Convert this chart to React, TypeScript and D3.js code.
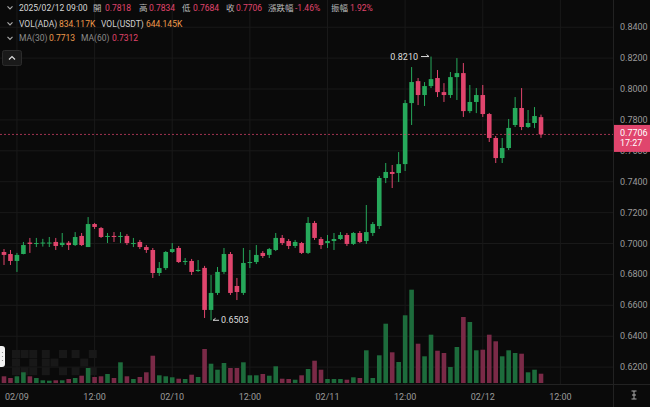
import React from "react";
import * as d3 from "d3";

// ---- data (hourly candles, ADA/USDT) ----
const startTime = new Date(2025, 1, 8, 22, 0, 0).getTime();
const opens = [
  0.6945, 0.6932, 0.6887, 0.6932, 0.7006, 0.6997, 0.7000, 0.7000, 0.7010, 0.6990,
  0.7005, 0.6990, 0.7049, 0.6977, 0.7126, 0.7100, 0.7042, 0.7049, 0.7042, 0.7049,
  0.6997, 0.7010, 0.6977, 0.6958, 0.6809, 0.6841, 0.6945, 0.6971, 0.6880, 0.6887,
  0.6822, 0.6842, 0.6570, 0.6680, 0.6816, 0.6932, 0.6725, 0.6680, 0.6874, 0.6880,
  0.6939, 0.6926, 0.6958, 0.7036, 0.7016, 0.6984, 0.7003, 0.6939, 0.7133, 0.7029,
  0.7003, 0.7016, 0.7029, 0.7055, 0.6997, 0.7068, 0.7016, 0.7068, 0.7113, 0.7424,
  0.7463, 0.7456, 0.7514, 0.7909, 0.8051, 0.7961, 0.8019, 0.8071, 0.7980, 0.7961,
  0.8077, 0.8103, 0.7857, 0.7916, 0.7961, 0.7838, 0.7683, 0.7553, 0.7618, 0.7767,
  0.7877, 0.7754, 0.7780, 0.7818,
];
const highs = [
  0.6964, 0.6958, 0.6939, 0.7010, 0.7036, 0.7036, 0.7030, 0.7042, 0.7036, 0.7068,
  0.7016, 0.7074, 0.7068, 0.7171, 0.7133, 0.7107, 0.7068, 0.7074, 0.7074, 0.7061,
  0.7036, 0.7023, 0.6990, 0.6971, 0.6880, 0.6951, 0.7003, 0.6984, 0.6906, 0.6900,
  0.6893, 0.6855, 0.6796, 0.6848, 0.6971, 0.6945, 0.6777, 0.6971, 0.6958, 0.6990,
  0.6951, 0.6971, 0.7068, 0.7055, 0.7029, 0.7023, 0.7010, 0.7171, 0.7146, 0.7042,
  0.7055, 0.7068, 0.7074, 0.7068, 0.7074, 0.7081, 0.7249, 0.7139, 0.7437, 0.7521,
  0.7508, 0.7592, 0.7929, 0.8142, 0.8071, 0.8045, 0.8210, 0.8123, 0.8038, 0.8110,
  0.8200, 0.8168, 0.8026, 0.8006, 0.8026, 0.7845, 0.7696, 0.7683, 0.7806, 0.7948,
  0.8006, 0.7864, 0.7883, 0.7834,
];
const lows = [
  0.6861, 0.6861, 0.6816, 0.6930, 0.6939, 0.6977, 0.6980, 0.6977, 0.6958, 0.6977,
  0.6958, 0.6984, 0.6984, 0.6977, 0.7094, 0.7036, 0.7003, 0.7010, 0.7003, 0.6990,
  0.6977, 0.6964, 0.6939, 0.6777, 0.6790, 0.6829, 0.6939, 0.6874, 0.6861, 0.6796,
  0.6816, 0.6518, 0.6503, 0.6667, 0.6803, 0.6667, 0.6634, 0.6667, 0.6841, 0.6867,
  0.6906, 0.6906, 0.6951, 0.6990, 0.6964, 0.6971, 0.6932, 0.6932, 0.7023, 0.6964,
  0.6971, 0.6958, 0.7023, 0.6984, 0.6990, 0.7003, 0.6997, 0.7049, 0.7094, 0.7391,
  0.7359, 0.7398, 0.7469, 0.7767, 0.7896, 0.7890, 0.8006, 0.7948, 0.7916, 0.7942,
  0.7929, 0.7819, 0.7844, 0.7844, 0.7819, 0.7657, 0.7521, 0.7521, 0.7605, 0.7754,
  0.7734, 0.7747, 0.7747, 0.7684,
];
const closes = [
  0.6926, 0.6887, 0.6926, 0.6990, 0.6997, 0.7003, 0.7006, 0.7006, 0.6984, 0.7005,
  0.6990, 0.7042, 0.6990, 0.7126, 0.7107, 0.7042, 0.7049, 0.7042, 0.7049, 0.7003,
  0.7003, 0.6977, 0.6958, 0.6809, 0.6841, 0.6945, 0.6964, 0.6880, 0.6887, 0.6816,
  0.6829, 0.6570, 0.6680, 0.6816, 0.6932, 0.6680, 0.6686, 0.6874, 0.6880, 0.6926,
  0.6919, 0.6964, 0.7036, 0.7003, 0.6984, 0.7010, 0.6939, 0.7133, 0.7036, 0.6990,
  0.7016, 0.7029, 0.7055, 0.6997, 0.7068, 0.7010, 0.7074, 0.7126, 0.7424, 0.7463,
  0.7450, 0.7514, 0.7909, 0.8045, 0.7961, 0.8019, 0.8064, 0.7980, 0.7961, 0.8077,
  0.8103, 0.7857, 0.7916, 0.7961, 0.7838, 0.7683, 0.7553, 0.7618, 0.7748, 0.7877,
  0.7754, 0.7780, 0.7825, 0.7706,
];
// volume in thousand ADA
const volumes = [
  601, 449, 601, 960, 601, 449, 242, 206, 242, 242,
  359, 449, 655, 1346, 538, 601, 807, 449, 1857, 601,
  359, 538, 960, 2449, 691, 601, 511, 386, 359, 745,
  538, 3050, 1731, 1193, 1794, 1346, 1346, 1857, 691, 691,
  807, 655, 1498, 386, 359, 296, 691, 1256, 2000, 1193,
  359, 359, 359, 296, 511, 449, 2933, 449, 2485, 5319,
  2754, 1884, 6073, 8369, 3525, 2395, 4333, 2897, 2691, 1435,
  3229, 5920, 5472, 2933, 2987, 4333, 3740, 2395, 2933, 2691,
  2628, 960, 1193, 834.117,
];
const priceTicks = [0.62, 0.64, 0.66, 0.68, 0.7, 0.72, 0.74, 0.76, 0.78, 0.8, 0.82, 0.84];
const timeTickDates = [
  new Date(2025, 1, 9, 0), new Date(2025, 1, 9, 12),
  new Date(2025, 1, 10, 0), new Date(2025, 1, 10, 12),
  new Date(2025, 1, 11, 0), new Date(2025, 1, 11, 12),
  new Date(2025, 1, 12, 0), new Date(2025, 1, 12, 12),
];
const timeTickLabels = ["02/09", "12:00", "02/10", "12:00", "02/11", "12:00", "02/12", "12:00"];

const lastPrice = 0.7706;
const highMark = 0.821;
const lowMark = 0.6503;

const W = 650;
const H = 407;
const PLOT_R = 613;
const GREEN = "#26a95b";
const RED = "#e0456d";
const VGREEN = "#1d6c3c";
const VRED = "#7a2a47";
const FONT = "Roboto, 'Noto Sans CJK TC', 'Noto Sans', sans-serif";

const candles = opens.map((o, i) => ({
  t: new Date(startTime + i * 3600 * 1000),
  o,
  h: highs[i],
  l: lows[i],
  c: closes[i],
  v: volumes[i],
}));

const x = d3
  .scaleTime()
  .domain([candles[0].t, candles[candles.length - 1].t])
  .range([4, 4 + (candles.length - 1) * 6.47]);
const y = d3.scaleLinear().domain([0.62, 0.84]).range([367.1, 27.2]);
const yv = d3.scaleLinear().domain([0, 10000]).range([383, 271.5]);
const bodyW = 4.6;

const Chevron = ({ cx, cy, up = false }: { cx: number; cy: number; up?: boolean }) => {
  const d = up
    ? `M${cx - 3},${cy + 1.5} L${cx},${cy - 1.5} L${cx + 3},${cy + 1.5}`
    : `M${cx - 2.5},${cy - 1.2} L${cx},${cy + 1.3} L${cx + 2.5},${cy - 1.2}`;
  return <path d={d} fill="none" stroke={up ? "#ddd" : "#aaa"} strokeWidth={1.2} />;
};

// OKX-like block watermark cells [col,row]
const logoO = [[0,0],[1,0],[2,0],[0,1],[2,1],[0,2],[1,2],[2,2]];
const logoK = [[0,0],[0,1],[0,2],[1,1],[2,0],[2,2]];
const logoX = [[0,0],[2,0],[1,1],[0,2],[2,2]];

export default function App() {
  const hdr1: { t: string; x: number; c: string }[] = [
    { t: "2025/02/12 09:00", x: 19, c: "#d8d8d8" },
    { t: "開", x: 93, c: "#bbbbbb" },
    { t: "0.7818", x: 105, c: RED },
    { t: "高", x: 139, c: "#bbbbbb" },
    { t: "0.7834", x: 149, c: RED },
    { t: "低", x: 182, c: "#bbbbbb" },
    { t: "0.7684", x: 193, c: RED },
    { t: "收", x: 226, c: "#bbbbbb" },
    { t: "0.7706", x: 236, c: RED },
    { t: "漲跌幅", x: 268, c: "#bbbbbb" },
    { t: "-1.46%", x: 295, c: RED },
    { t: "振幅", x: 331, c: "#bbbbbb" },
    { t: "1.92%", x: 350, c: RED },
  ];
  const hdr2 = [
    { t: "VOL(ADA)", x: 19, c: "#d0d0d0" },
    { t: "834.117K", x: 59, c: "#ee9a4d" },
    { t: "VOL(USDT)", x: 101, c: "#d0d0d0" },
    { t: "644.145K", x: 146, c: "#ee9a4d" },
  ];
  const hdr3 = [
    { t: "MA(30)", x: 19, c: "#8a8a8a" },
    { t: "0.7713", x: 49, c: "#ee9a4d" },
    { t: "MA(60)", x: 81, c: "#8a8a8a" },
    { t: "0.7312", x: 112, c: RED },
  ];
  const cell = 8.6;
  const logoX0 = 12;
  const logoY0 = 350;
  const letters = [logoO, logoK, logoX];
  const tagBottom = y(lastPrice) + 17.5;

  return (
    <svg
      width={W}
      height={H}
      style={{ position: "fixed", left: 0, top: 0, background: "#0a0a0a" }}
      fontFamily={FONT}
    >
      <defs>
        <clipPath id="belowTag">
          <rect x={PLOT_R} y={tagBottom} width={W - PLOT_R} height={3} />
        </clipPath>
      </defs>
      <rect x={0} y={0} width={W} height={H} fill="#0a0a0a" />
      {/* grid */}
      {priceTicks.map((p) => (
        <line key={"hg" + p} x1={0} x2={PLOT_R} y1={y(p)} y2={y(p)} stroke="#191919" strokeWidth={1} />
      ))}
      {timeTickDates.map((d, i) => (
        <line key={"vg" + i} x1={x(d)} x2={x(d)} y1={0} y2={384} stroke="#191919" strokeWidth={1} />
      ))}
      {/* watermark */}
      <g fill="#181818">
        {letters.map((L, li) =>
          L.map(([c, r], k) => (
            <rect
              key={li + "-" + k}
              x={logoX0 + li * (3 * cell + 4) + c * cell}
              y={logoY0 + r * cell}
              width={cell - 0.6}
              height={cell - 0.6}
            />
          ))
        )}
      </g>
      {/* volume */}
      {candles.map((d, i) => (
        <rect
          key={"v" + i}
          x={x(d.t) - bodyW / 2}
          y={yv(d.v)}
          width={bodyW}
          height={yv(0) - yv(d.v)}
          fill={d.c >= d.o ? VGREEN : VRED}
        />
      ))}
      {/* candles */}
      {candles.map((d, i) => {
        const up = d.c >= d.o;
        const col = up ? GREEN : RED;
        const top = y(Math.max(d.o, d.c));
        const bot = y(Math.min(d.o, d.c));
        const cx = x(d.t);
        return (
          <g key={"c" + i}>
            <line x1={cx} x2={cx} y1={y(d.h)} y2={y(d.l)} stroke={col} strokeWidth={1} />
            <rect x={cx - bodyW / 2} y={top} width={bodyW} height={Math.max(1, bot - top)} fill={col} />
          </g>
        );
      })}
      {/* last price line */}
      <line
        x1={0}
        x2={PLOT_R}
        y1={y(lastPrice)}
        y2={y(lastPrice)}
        stroke={RED}
        strokeOpacity={0.7}
        strokeWidth={1}
        strokeDasharray="2,2"
      />
      {/* high / low annotations */}
      {(() => {
        const hi = candles.find((d) => d.h === highMark)!;
        const lo = candles.find((d) => d.l === lowMark)!;
        const hx = x(hi.t);
        const lx = x(lo.t);
        return (
          <g fontSize={9} fill="#dddddd">
            <text x={hx - 13} y={y(highMark) + 3} textAnchor="end">
              0.8210
            </text>
            <line x1={hx - 10} x2={hx - 2} y1={y(highMark)} y2={y(highMark)} stroke="#ddd" strokeWidth={1} />
            <path d={`M${hx - 4.5},${y(highMark) - 2} L${hx - 2},${y(highMark)}`} stroke="#ddd" fill="none" />
            <line x1={lx + 2} x2={lx + 8} y1={y(lowMark)} y2={y(lowMark)} stroke="#ddd" strokeWidth={1} />
            <path d={`M${lx + 4.5},${y(lowMark) - 2} L${lx + 2},${y(lowMark)}`} stroke="#ddd" fill="none" />
            <text x={lx + 10} y={y(lowMark) + 3}>
              0.6503
            </text>
          </g>
        );
      })()}
      {/* right axis */}
      <line x1={PLOT_R + 0.5} x2={PLOT_R + 0.5} y1={0} y2={H} stroke="#222" />
      <line x1={0} x2={W} y1={384.5} y2={384.5} stroke="#222" />
      {priceTicks
        .filter((p) => Math.abs(y(p) - y(lastPrice)) > 14)
        .map((p) => (
          <text key={"pt" + p} x={620} y={y(p) + 3} fontSize={9} fill="#9a9a9a">
            {p.toFixed(4)}
          </text>
        ))}
      {/* tick label hidden under the price tag: only a sliver shows below it */}
      {priceTicks
        .filter((p) => Math.abs(y(p) - y(lastPrice)) <= 14)
        .map((p) => (
          <text key={"ph" + p} x={620} y={tagBottom + 9.6} fontSize={9} fill="#9a9a9a" clipPath="url(#belowTag)">
            {p.toFixed(4)}
          </text>
        ))}
      {/* price tag */}
      <rect x={PLOT_R + 1} y={y(lastPrice) - 9.5} width={W - PLOT_R - 1} height={27} fill={RED} />
      <text x={620} y={y(lastPrice) + 2} fontSize={9} fill="#ffffff">
        {lastPrice.toFixed(4)}
      </text>
      <text x={620} y={y(lastPrice) + 11.8} fontSize={9} fill="#ffffff">
        17:27
      </text>
      {/* x axis labels */}
      {timeTickDates.map((d, i) => (
        <text key={"xt" + i} x={x(d)} y={400} fontSize={9} fill="#9a9a9a" textAnchor="middle">
          {timeTickLabels[i]}
        </text>
      ))}
      {/* axis icon bottom right */}
      <g stroke="#aaa" strokeWidth={1}>
        <line x1={634} x2={634} y1={391} y2={399} />
        <line x1={631.5} x2={636.5} y1={391} y2={391} />
        <line x1={631.5} x2={636.5} y1={399} y2={399} />
        <line x1={632} x2={636} y1={395} y2={395} />
      </g>
      {/* header */}
      <Chevron cx={10} cy={7.5} />
      <Chevron cx={10} cy={23.5} />
      <Chevron cx={10} cy={38} />
      <g fontSize={8.5}>
        {hdr1.map((h, i) => (
          <text key={"h1" + i} x={h.x} y={10.8} fill={h.c}>
            {h.t}
          </text>
        ))}
        {hdr2.map((h, i) => (
          <text key={"h2" + i} x={h.x} y={26.5} fill={h.c}>
            {h.t}
          </text>
        ))}
        {hdr3.map((h, i) => (
          <text key={"h3" + i} x={h.x} y={41} fill={h.c}>
            {h.t}
          </text>
        ))}
      </g>
      {/* collapse button */}
      <rect x={2.5} y={50.5} width={19} height={15} rx={2} fill="#1a1a1a" stroke="#2c2c2c" />
      <Chevron cx={12} cy={58} up />
      {/* left scroll handle */}
      <rect x={-3} y={346} width={8} height={21} rx={3} fill="#f2f2f2" />
      <g fill="#888">
        <circle cx={2.5} cy={352.5} r={0.6} />
        <circle cx={2.5} cy={356.5} r={0.6} />
        <circle cx={2.5} cy={360.5} r={0.6} />
      </g>
    </svg>
  );
}
